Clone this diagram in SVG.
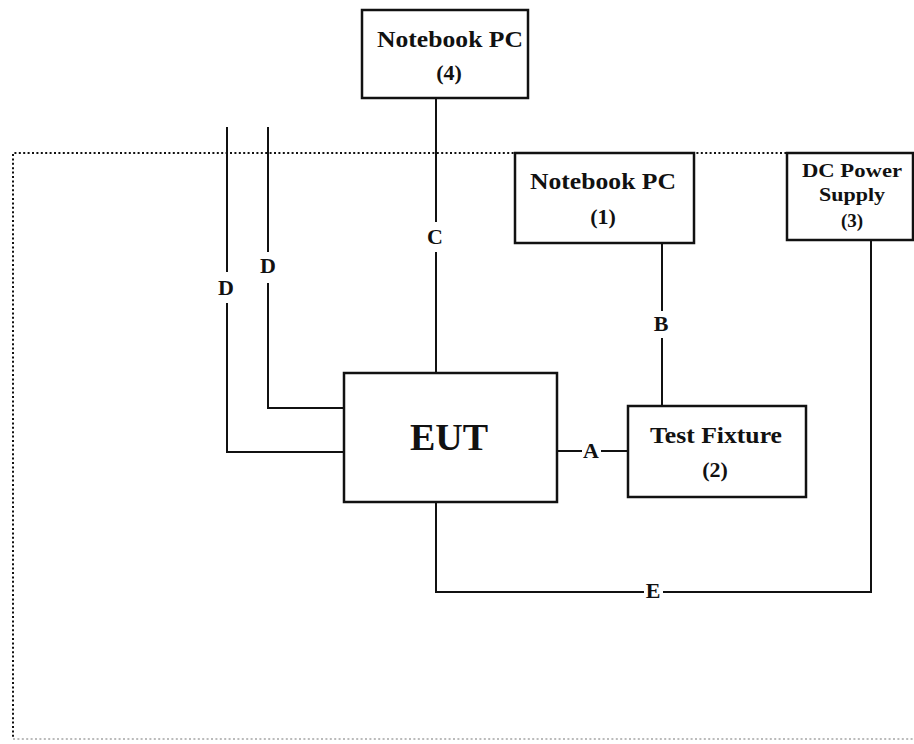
<svg xmlns="http://www.w3.org/2000/svg" width="914" height="744" viewBox="0 0 914 744">
<style>
.box{fill:#fff;stroke:#111;stroke-width:2.5}
.ln{fill:none;stroke:#111;stroke-width:2}
.t{font-family:"Liberation Serif","Times New Roman",serif;font-weight:bold;fill:#111;text-anchor:middle}
.lbl{font-family:"Liberation Serif","Times New Roman",serif;font-weight:bold;fill:#111;text-anchor:middle;font-size:22px}
.dot{fill:none;stroke:#111;stroke-width:2;stroke-dasharray:2 2.4}
</style>
<rect width="914" height="744" fill="#fff"/>
<g id="boundary">
<path class="dot" d="M914,153 H13 V738"/>
<path d="M13,739 H914" fill="none" stroke="#bbb" stroke-width="2" stroke-dasharray="2 2.4"/>
</g>
<g id="connectors">
<path class="ln" d="M436,98 V222 M436,252 V373"/>
<text class="lbl" x="435" y="244">C</text>
<path class="ln" d="M662,243 V311 M662,338 V406"/>
<text class="lbl" x="661" y="331">B</text>
<path class="ln" d="M557,451 H582 M601,451 H628"/>
<text class="lbl" x="591" y="458">A</text>
<path class="ln" d="M227,127 V272 M227,303 V452 H344"/>
<text class="lbl" x="226" y="295">D</text>
<path class="ln" d="M268,127 V252 M268,283 V408 H344"/>
<text class="lbl" x="268" y="273">D</text>
<path class="ln" d="M436,502 V592 H644 M663,592 H871 V240"/>
<text class="lbl" x="653" y="598">E</text>
</g>
<g id="notebook4">
<rect class="box" x="362" y="10" width="166" height="88"/>
<text class="t" x="450" y="47" font-size="23" textLength="146" lengthAdjust="spacingAndGlyphs">Notebook PC</text>
<text class="t" x="449" y="80" font-size="22">(4)</text>
</g>
<g id="notebook1">
<rect class="box" x="515" y="153" width="179" height="90"/>
<text class="t" x="603" y="189" font-size="23" textLength="146" lengthAdjust="spacingAndGlyphs">Notebook PC</text>
<text class="t" x="603" y="224" font-size="22">(1)</text>
</g>
<g id="dcpower">
<rect class="box" x="787" y="153" width="126" height="87"/>
<text class="t" x="852" y="177" font-size="19" textLength="100" lengthAdjust="spacingAndGlyphs">DC Power</text>
<text class="t" x="852" y="201" font-size="19" textLength="66" lengthAdjust="spacingAndGlyphs">Supply</text>
<text class="t" x="852" y="227" font-size="19">(3)</text>
</g>
<g id="eut">
<rect class="box" x="344" y="373" width="213" height="129"/>
<text class="t" x="449" y="450" font-size="38">EUT</text>
</g>
<g id="testfixture">
<rect class="box" x="628" y="406" width="178" height="91"/>
<text class="t" x="716" y="443" font-size="23" textLength="132" lengthAdjust="spacingAndGlyphs">Test Fixture</text>
<text class="t" x="715" y="477" font-size="22">(2)</text>
</g>
</svg>
